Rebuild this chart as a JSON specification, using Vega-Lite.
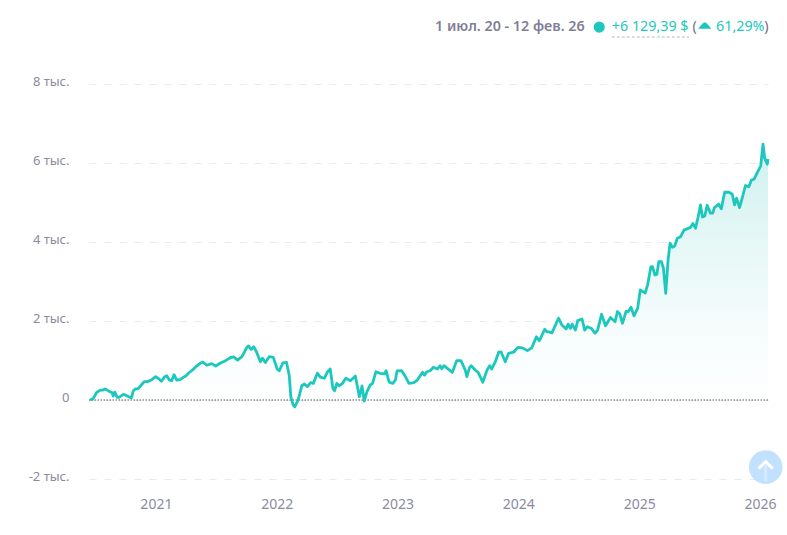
{"$schema":"https://vega.github.io/schema/vega-lite/v6.json","width":679,"height":395,"autosize":"none","padding":{"left":89,"top":84,"right":19,"bottom":56},"background":"white","config":{"view":{"stroke":null},"font":"Noto Sans"},
"datasets":{"series":[
{"date":"2020-07-04","value":0},{"date":"2020-07-14","value":40},{"date":"2020-07-24","value":190},{"date":"2020-08-04","value":250},{"date":"2020-08-11","value":250},{"date":"2020-08-19","value":280},{"date":"2020-08-29","value":230},{"date":"2020-09-09","value":185},{"date":"2020-09-12","value":100},{"date":"2020-09-17","value":200},{"date":"2020-09-24","value":70},{"date":"2020-10-01","value":70},{"date":"2020-10-13","value":145},{"date":"2020-10-23","value":110},{"date":"2020-11-06","value":50},{"date":"2020-11-12","value":235},{"date":"2020-11-18","value":280},{"date":"2020-11-26","value":285},{"date":"2020-12-06","value":380},{"date":"2020-12-15","value":465},{"date":"2020-12-25","value":465},
{"date":"2021-01-05","value":505},{"date":"2021-01-18","value":590},{"date":"2021-01-26","value":550},{"date":"2021-02-05","value":475},{"date":"2021-02-15","value":590},{"date":"2021-02-21","value":615},{"date":"2021-03-01","value":505},{"date":"2021-03-08","value":490},{"date":"2021-03-15","value":640},{"date":"2021-03-23","value":505},{"date":"2021-04-02","value":515},{"date":"2021-04-12","value":575},{"date":"2021-04-20","value":610},{"date":"2021-04-29","value":690},{"date":"2021-05-10","value":760},{"date":"2021-05-22","value":860},{"date":"2021-06-02","value":930},{"date":"2021-06-10","value":960},{"date":"2021-06-22","value":880},{"date":"2021-07-07","value":920},{"date":"2021-07-19","value":860},{"date":"2021-08-01","value":930},{"date":"2021-08-16","value":990},{"date":"2021-09-01","value":1070},{"date":"2021-09-11","value":1090},{"date":"2021-09-23","value":1010},{"date":"2021-10-06","value":1100},{"date":"2021-10-21","value":1330},{"date":"2021-10-26","value":1370},{"date":"2021-11-03","value":1280},{"date":"2021-11-11","value":1350},{"date":"2021-11-19","value":1220},{"date":"2021-12-01","value":970},{"date":"2021-12-07","value":1060},{"date":"2021-12-16","value":950},{"date":"2021-12-28","value":1100},
{"date":"2022-01-09","value":1080},{"date":"2022-01-21","value":780},{"date":"2022-01-27","value":740},{"date":"2022-02-07","value":940},{"date":"2022-02-18","value":950},{"date":"2022-02-26","value":630},{"date":"2022-03-03","value":80},{"date":"2022-03-10","value":-130},{"date":"2022-03-15","value":-170},{"date":"2022-03-25","value":0},{"date":"2022-04-05","value":360},{"date":"2022-04-13","value":405},{"date":"2022-04-22","value":340},{"date":"2022-05-02","value":440},{"date":"2022-05-10","value":420},{"date":"2022-05-22","value":680},{"date":"2022-05-31","value":580},{"date":"2022-06-12","value":550},{"date":"2022-06-22","value":715},{"date":"2022-06-30","value":785},{"date":"2022-07-08","value":300},{"date":"2022-07-13","value":235},{"date":"2022-07-20","value":420},{"date":"2022-07-27","value":360},{"date":"2022-08-06","value":420},{"date":"2022-08-16","value":550},{"date":"2022-08-30","value":490},{"date":"2022-09-14","value":610},{"date":"2022-09-26","value":85},{"date":"2022-10-04","value":355},{"date":"2022-10-11","value":-25},{"date":"2022-10-19","value":210},{"date":"2022-10-29","value":380},{"date":"2022-11-05","value":420},{"date":"2022-11-15","value":715},{"date":"2022-11-28","value":675},{"date":"2022-12-11","value":660},{"date":"2022-12-16","value":740},{"date":"2022-12-25","value":450},
{"date":"2023-01-05","value":420},{"date":"2023-01-13","value":505},{"date":"2023-01-18","value":735},{"date":"2023-02-01","value":740},{"date":"2023-02-11","value":610},{"date":"2023-02-23","value":420},{"date":"2023-03-10","value":440},{"date":"2023-03-20","value":505},{"date":"2023-04-05","value":700},{"date":"2023-04-11","value":630},{"date":"2023-04-18","value":715},{"date":"2023-04-28","value":740},{"date":"2023-05-08","value":830},{"date":"2023-05-20","value":785},{"date":"2023-05-28","value":870},{"date":"2023-06-02","value":790},{"date":"2023-06-09","value":870},{"date":"2023-06-19","value":800},{"date":"2023-07-04","value":700},{"date":"2023-07-17","value":995},{"date":"2023-07-30","value":995},{"date":"2023-08-12","value":760},{"date":"2023-08-17","value":590},{"date":"2023-08-25","value":820},{"date":"2023-08-30","value":870},{"date":"2023-09-11","value":760},{"date":"2023-09-20","value":700},{"date":"2023-10-04","value":450},{"date":"2023-10-17","value":760},{"date":"2023-10-25","value":870},{"date":"2023-10-31","value":785},{"date":"2023-11-11","value":970},{"date":"2023-11-21","value":1210},{"date":"2023-11-28","value":1220},{"date":"2023-12-11","value":970},{"date":"2023-12-21","value":1180},
{"date":"2024-01-05","value":1210},{"date":"2024-01-18","value":1330},{"date":"2024-02-01","value":1320},{"date":"2024-02-16","value":1250},{"date":"2024-02-29","value":1320},{"date":"2024-03-14","value":1600},{"date":"2024-03-23","value":1500},{"date":"2024-04-08","value":1790},{"date":"2024-04-15","value":1730},{"date":"2024-04-23","value":1720},{"date":"2024-04-30","value":1700},{"date":"2024-05-20","value":2070},{"date":"2024-05-30","value":1900},{"date":"2024-06-12","value":1800},{"date":"2024-06-18","value":1920},{"date":"2024-06-25","value":1815},{"date":"2024-06-30","value":1920},{"date":"2024-07-10","value":1770},{"date":"2024-07-17","value":2010},{"date":"2024-07-30","value":2050},{"date":"2024-08-07","value":1770},{"date":"2024-08-15","value":1855},{"date":"2024-08-27","value":1815},{"date":"2024-09-07","value":1690},{"date":"2024-09-15","value":1770},{"date":"2024-09-27","value":2170},{"date":"2024-10-09","value":1880},{"date":"2024-10-24","value":2090},{"date":"2024-11-07","value":1980},{"date":"2024-11-14","value":2240},{"date":"2024-11-21","value":2180},{"date":"2024-11-29","value":1940},{"date":"2024-12-10","value":2240},{"date":"2024-12-17","value":2240},{"date":"2024-12-25","value":2350},
{"date":"2025-01-03","value":2130},{"date":"2025-01-14","value":2320},{"date":"2025-01-22","value":2785},{"date":"2025-02-06","value":2710},{"date":"2025-02-13","value":2910},{"date":"2025-02-23","value":3370},{"date":"2025-02-28","value":3375},{"date":"2025-03-07","value":3165},{"date":"2025-03-13","value":3180},{"date":"2025-03-19","value":3500},{"date":"2025-03-27","value":3500},{"date":"2025-04-02","value":3330},{"date":"2025-04-09","value":2700},{"date":"2025-04-16","value":3545},{"date":"2025-04-22","value":3970},{"date":"2025-04-29","value":3865},{"date":"2025-05-06","value":3900},{"date":"2025-05-14","value":4095},{"date":"2025-05-24","value":4135},{"date":"2025-06-03","value":4300},{"date":"2025-06-23","value":4370},{"date":"2025-06-30","value":4470},{"date":"2025-07-08","value":4350},{"date":"2025-07-16","value":4640},{"date":"2025-07-23","value":4940},{"date":"2025-07-29","value":4630},{"date":"2025-08-05","value":4660},{"date":"2025-08-12","value":4930},{"date":"2025-08-22","value":4730},{"date":"2025-08-29","value":4730},{"date":"2025-09-03","value":4870},{"date":"2025-09-16","value":4960},{"date":"2025-09-24","value":4840},{"date":"2025-10-04","value":5260},{"date":"2025-10-17","value":5260},{"date":"2025-10-27","value":5210},{"date":"2025-11-03","value":4940},{"date":"2025-11-09","value":5110},{"date":"2025-11-18","value":4870},{"date":"2025-11-26","value":5110},{"date":"2025-12-06","value":5430},{"date":"2025-12-16","value":5400},{"date":"2025-12-24","value":5570},
{"date":"2026-01-01","value":5590},{"date":"2026-01-11","value":5765},{"date":"2026-01-21","value":5930},{"date":"2026-01-28","value":6475},{"date":"2026-02-02","value":6120},{"date":"2026-02-10","value":5970},{"date":"2026-02-12","value":6100}
]},
"layer":[
{"data":{"name":"series"},"mark":{"type":"area","fill":{"gradient":"linear","x1":0,"y1":1,"x2":0,"y2":0,"stops":[{"offset":0,"color":"#ffffff"},{"offset":0.3,"color":"#f6fcfc"},{"offset":0.65,"color":"#e4f7f6"},{"offset":1,"color":"#cff1ef"}]}},
"encoding":{"x":{"field":"date","type":"temporal","scale":{"domain":[{"year":2020,"month":7,"date":1},{"year":2026,"month":2,"date":12}]},"axis":{"title":null,"tickCount":"year","format":"%Y","domain":false,"ticks":false,"grid":false,"labelOffset":6,"labelPadding":18,"labelFontSize":14,"labelColor":"#8b8b9e","labelFlush":false,"labelOverlap":false}},
"y":{"field":"value","type":"quantitative","scale":{"domain":[-2000,8000],"nice":false},"axis":{"title":null,"values":[-2000,0,2000,4000,6000,8000],"labelExpr":"datum.value==0?'0':(datum.value/1000)+' тыс.'","domain":false,"ticks":false,"labelPadding":20,"labelFontSize":13,"labelColor":"#8b8b9e","labelOffset":-3,"gridColor":"#e9e9ee","gridDash":[7,8],"gridWidth":1}},"y2":{"datum":0}}},
{"data":{"values":[{"value":0}]},"mark":{"type":"rule","stroke":"#55555f","strokeDash":[1.5,1.5],"strokeWidth":1},"encoding":{"y":{"field":"value","type":"quantitative"}}},
{"data":{"name":"series"},"mark":{"type":"line","stroke":"#1cc8bd","strokeWidth":2.8,"strokeJoin":"round"},"encoding":{"x":{"field":"date","type":"temporal"},"y":{"field":"value","type":"quantitative"}}},
{"data":{"values":[{"date":"2024-08-07","value":9440,"label":"1 июл. 20 - 12 фев. 26"}]},"mark":{"type":"text","align":"right","baseline":"middle","fontSize":14.3,"fontWeight":600,"color":"#7f7f97"},"encoding":{"x":{"field":"date","type":"temporal"},"y":{"field":"value","type":"quantitative"},"text":{"field":"label"}}},
{"data":{"values":[{"date":"2024-10-28","value":9440,"label":"+6 129,39 $"},{"date":"2025-09-08","value":9440,"label":"61,29%"}]},"mark":{"type":"text","align":"left","baseline":"middle","fontSize":14.3,"color":"#1cc8bd"},"encoding":{"x":{"field":"date","type":"temporal"},"y":{"field":"value","type":"quantitative"},"text":{"field":"label"}}},
{"data":{"values":[{"date":"2025-06-29","value":9440,"label":"("},{"date":"2026-02-01","value":9440,"label":")"}]},"mark":{"type":"text","align":"left","baseline":"middle","fontSize":14.3,"color":"#6f6f88"},"encoding":{"x":{"field":"date","type":"temporal"},"y":{"field":"value","type":"quantitative"},"text":{"field":"label"}}},
{"data":{"values":[{"date":"2024-09-20","value":9440}]},"mark":{"type":"point","shape":"circle","filled":true,"size":125,"color":"#1cc8bd","opacity":1},"encoding":{"x":{"field":"date","type":"temporal"},"y":{"field":"value","type":"quantitative"}}},
{"data":{"values":[{"date":"2025-08-05","value":9480}]},"mark":{"type":"point","shape":"M-1,0.5 Q-0.3,-0.5 0,-0.5 Q0.3,-0.5 1,0.5 Z","filled":true,"size":170,"color":"#1cc8bd","opacity":1},"encoding":{"x":{"field":"date","type":"temporal"},"y":{"field":"value","type":"quantitative"}}},
{"data":{"values":[{"start":"2024-10-28","end":"2025-06-18","value":9190}]},"mark":{"type":"rule","stroke":"#b8b8c6","strokeDash":[3,2],"strokeWidth":1},"encoding":{"x":{"field":"start","type":"temporal"},"x2":{"field":"end"},"y":{"field":"value","type":"quantitative"}}},
{"data":{"values":[{"date":"2026-02-05","value":-1700}]},"mark":{"type":"point","shape":"circle","filled":true,"size":1130,"color":"#bfdffe","opacity":0.95},"encoding":{"x":{"field":"date","type":"temporal"},"y":{"field":"value","type":"quantitative"}}},
{"data":{"values":[{"date":"2026-02-05","value":-1640}]},"mark":{"type":"point","shape":"M-1,0.55 L0,-0.45 L1,0.55","filled":false,"size":200,"stroke":"#ffffff","strokeWidth":3,"opacity":1},"encoding":{"x":{"field":"date","type":"temporal"},"y":{"field":"value","type":"quantitative"}}},
{"data":{"values":[{"date":"2026-02-05","value":-1640,"end":-2050}]},"mark":{"type":"rule","stroke":"#ffffff","strokeWidth":3,"opacity":0.35},"encoding":{"x":{"field":"date","type":"temporal"},"y":{"field":"value","type":"quantitative"},"y2":{"field":"end"}}}
]}
